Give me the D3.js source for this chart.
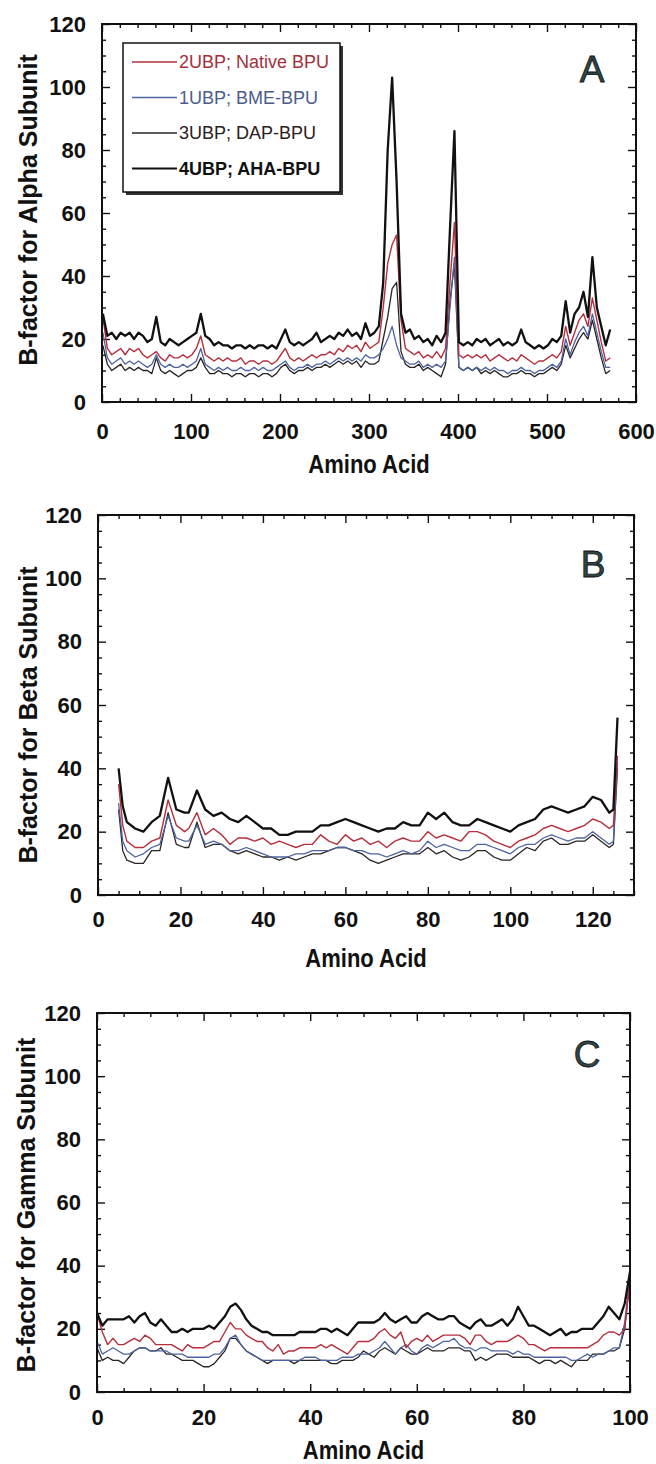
<!DOCTYPE html>
<html>
<head>
<meta charset="utf-8">
<script src="https://cdn.jsdelivr.net/npm/d3@7"></script>
<style>
  body { margin: 0; background: #fff; }
  svg { display: block; }
  text { font-family: "Liberation Sans", Arial, Helvetica, sans-serif; }
</style>
</head>
<body>
<svg id="chart" width="656" height="1464"></svg>
<script>
// series names, same order in every panel
const seriesNames = ['2UBP; Native BPU', '1UBP; BME-BPU', '3UBP; DAP-BPU', '4UBP; AHA-BPU'];

// ---- panel A : alpha subunit (sampled every 5 residues) ----
const residA = d3.range(1, 572, 5);
const nativeA = [
  27,17,15,16,17,15,17,16,17,15, 14,15,16,14,13,15,14,14,15,14,
  15,17,21,15,14,13,14,13,14,13, 13,14,12,13,13,12,13,13,12,13,
  15,17,14,13,14,13,14,15,14,15, 15,16,15,17,16,18,17,18,16,19,
  17,18,19,30,44,50,53,26,17,16, 15,16,14,15,14,16,14,17,38,57,
  15,14,15,14,15,14,15,13,14,15, 14,13,14,13,15,14,13,12,13,13,
  14,15,14,16,24,18,22,26,28,24, 33,26,19,13,14];
const bmeA = [
  22,14,12,13,14,12,13,12,13,12, 11,12,15,12,11,12,11,11,12,11,
  12,13,17,12,11,10,11,10,11,10, 10,11,10,10,11,10,11,10,10,11,
  12,13,11,10,11,11,12,11,12,12, 13,12,13,14,13,14,13,14,13,15,
  14,14,15,17,20,24,18,14,13,12, 12,13,11,12,11,12,11,13,30,46,
  11,10,11,10,11,10,11,10,11,10, 10,9,10,10,11,10,10,9,10,10,
  11,12,11,13,20,15,19,22,24,21, 28,22,16,11,11];
const dapA = [
  18,12,10,11,12,10,11,10,11,10, 10,9,14,10,9,10,9,8,9,10,
  10,11,14,11,9,9,10,9,9,8, 9,9,8,9,9,8,9,9,8,9,
  11,12,10,9,10,10,11,10,11,11, 12,11,12,13,12,13,12,13,11,13,
  12,12,13,20,27,36,38,16,12,11, 11,12,10,11,10,9,8,12,32,44,
  11,10,11,10,11,9,10,9,10,9, 8,8,9,9,10,9,9,8,9,9,
  10,11,10,12,18,14,17,20,22,20, 26,20,14,9,10];
const ahaA = [
  28,21,22,20,22,21,22,20,22,21, 19,20,27,19,18,20,19,18,19,20,
  21,22,28,21,20,18,19,18,18,17, 18,18,17,18,17,18,18,17,18,17,
  20,23,19,18,19,18,19,20,22,19, 20,21,20,22,21,23,21,22,20,25,
  21,22,24,38,80,103,70,28,22,23, 20,21,19,20,18,21,19,22,55,86,
  19,18,19,18,20,19,20,18,19,20, 18,19,18,19,23,19,18,17,18,17,
  18,20,19,21,32,22,28,30,35,27, 46,30,24,18,23];

// ---- panel B : beta subunit ----
const residB = [
  5,6,7,9,11,13,15,17,19,21, 22,24,26,28,30,32,34,36,38,40,
  42,44,46,48,50,52,54,56,58,60, 62,64,66,68,70,72,74,76,78,80,
  82,84,86,88,90,92,94,96,98,100, 102,104,106,108,110,112,114,116,118,120,
  122,124,125,126];
const nativeB = [
  35,22,17,15,15,17,18,30,22,20, 21,26,19,21,19,16,18,18,17,18,
  16,17,16,15,16,16,19,17,16,19, 17,18,16,17,15,17,18,17,17,20,
  18,19,18,17,20,20,19,17,16,15, 17,18,19,21,22,21,20,21,22,24,
  23,21,22,44];
const bmeB = [
  29,17,14,12,13,15,16,25,18,17, 17,22,16,17,16,14,14,15,14,13,
  12,12,12,13,13,14,14,14,15,15, 14,14,13,13,12,13,14,13,14,17,
  15,16,15,14,14,16,16,15,14,13, 15,16,16,18,19,18,17,18,18,20,
  18,16,17,42];
const dapB = [
  27,14,11,10,10,14,14,26,16,15, 15,23,15,16,16,14,13,14,13,12,
  12,11,12,11,12,13,13,14,15,15, 14,13,11,10,11,12,13,13,13,15,
  13,14,12,11,12,14,14,12,11,11, 13,15,14,17,18,16,16,17,17,19,
  17,15,16,40];
const ahaB = [
  40,28,23,21,20,23,25,37,27,26, 26,33,27,25,26,24,23,25,23,21,
  21,19,19,20,20,20,22,22,23,24, 23,22,21,20,21,21,23,22,22,26,
  24,26,23,22,22,24,23,22,21,20, 22,23,24,27,28,27,26,27,28,31,
  30,26,27,56];

// ---- panel C : gamma subunit ----
const residC = d3.range(0, 101);
const nativeC = [
  25,19,15,17,15,15,16,17,16,18, 17,15,15,15,15,14,13,15,14,14,
  14,15,16,16,19,22,20,20,18,17, 16,16,14,13,15,12,13,13,14,14,
  14,14,15,14,15,14,13,12,14,16, 16,16,17,19,20,18,17,19,14,16,
  17,16,18,16,17,18,18,18,18,17, 15,18,18,16,15,16,16,16,17,18,
  17,15,15,14,13,14,14,14,14,14, 14,14,14,15,16,18,19,19,18,20, 36];
const bmeC = [
  16,12,13,14,13,12,12,13,14,14, 13,13,13,13,12,12,12,11,11,11,
  11,11,12,12,14,17,18,15,13,12, 11,10,10,10,10,10,10,10,10,11,
  11,11,10,10,10,10,11,11,11,12, 12,12,13,14,16,14,12,14,15,13,
  12,14,15,14,15,16,16,17,15,14, 14,13,14,14,13,13,13,13,12,13,
  12,12,11,11,11,11,11,11,11,10, 10,11,12,11,12,12,13,14,14,22, 37];
const dapC = [
  14,10,11,10,10,9,11,13,14,14, 13,13,14,12,12,11,10,10,10,9,
  8,8,9,11,13,17,17,15,13,12, 11,10,9,10,10,10,10,9,10,10,
  10,10,10,10,9,9,10,10,10,11, 13,12,11,13,14,13,12,14,13,12,
  12,13,14,13,13,13,14,14,14,13, 13,10,11,10,11,12,12,12,11,11,
  11,11,10,9,10,10,9,10,9,8, 10,10,10,12,12,12,13,13,14,20, 36];
const ahaC = [
  25,21,23,23,23,23,24,22,24,25, 22,21,23,21,19,19,20,19,20,20,
  20,21,20,22,24,27,28,26,23,21, 20,19,19,18,18,18,18,18,19,19,
  19,19,20,20,19,20,19,18,20,22, 22,22,22,23,25,23,22,23,24,22,
  22,24,25,24,23,23,24,24,22,21, 20,22,23,21,21,22,23,21,23,27,
  24,21,21,20,19,18,19,20,18,19, 19,20,20,20,22,24,27,25,23,28, 38];

const yTicks = [0, 20, 40, 60, 80, 100, 120];

// drawing styles per series (index matches seriesNames)
const lineColor = ['#b52f3d', '#4d64a0', '#2b2424', '#111111'];
const textColor = ['#a3303a', '#4a5c8e', '#2a2020', '#111111'];
const lineWidth = [1.4, 1.3, 1.3, 2.3];
const drawOrder = [2, 1, 0, 3];

const svg = d3.select('#chart');
const font = '"Liberation Sans", Arial, Helvetica, sans-serif';

const panels = [
  { left: 102, right: 636, top: 24, bottom: 402, xMax: 600, major: 100, minor: 20,
    pad: 21, titleY: 473, yTitleX: 28, yTitleY: 210, letter: 'A', letterX: 592, letterY: 82,
    yTitle: 'B-factor for Alpha Subunit', resid: residA, series: [nativeA, bmeA, dapA, ahaA] },
  { left: 98, right: 634, top: 515, bottom: 895, xMax: 130, major: 20, minor: 5,
    pad: 16, titleY: 967, yTitleX: 28, yTitleY: 715, letter: 'B', letterX: 593, letterY: 577,
    yTitle: 'B-factor for Beta Subunit', resid: residB, series: [nativeB, bmeB, dapB, ahaB] },
  { left: 97, right: 630, top: 1013, bottom: 1392, xMax: 100, major: 20, minor: 5,
    pad: 17, titleY: 1459, yTitleX: 26, yTitleY: 1205, letter: 'C', letterX: 587, letterY: 1067,
    yTitle: 'B-factor for Gamma Subunit', resid: residC, series: [nativeC, bmeC, dapC, ahaC] }
];

panels.forEach(drawPanel);

function drawPanel(p) {
  const x = d3.scaleLinear().domain([0, p.xMax]).range([p.left, p.right]);
  const y = d3.scaleLinear().domain([0, 120]).range([p.bottom, p.top]);
  const g = svg.append('g');

  const majorX = d3.range(0, p.xMax + 0.1, p.major);
  const minorX = d3.range(0, p.xMax + 0.1, p.minor).filter(v => v % p.major !== 0);
  const minorY = d3.range(0, 121, 5).filter(v => v % 20 !== 0);

  // inward ticks on all four sides
  const addAxis = (axis, tx, ty, labels) => {
    const a = g.append('g').attr('transform', `translate(${tx},${ty})`).call(axis);
    a.select('.domain').remove();
    a.selectAll('line').attr('stroke', '#111').attr('stroke-width', 1.4);
    a.selectAll('text')
      .style('font-family', font)
      .style('font-size', '22px')
      .style('font-weight', 'bold')
      .attr('fill', '#111');
    if (!labels) a.selectAll('text').remove();
    return a;
  };

  addAxis(d3.axisBottom(x).tickValues(majorX).tickSize(-8).tickPadding(p.pad).tickFormat(d3.format('d')), 0, p.bottom, true);
  addAxis(d3.axisBottom(x).tickValues(minorX).tickSize(-4), 0, p.bottom, false);
  addAxis(d3.axisTop(x).tickValues(majorX).tickSize(-8), 0, p.top, false);
  addAxis(d3.axisTop(x).tickValues(minorX).tickSize(-4), 0, p.top, false);
  addAxis(d3.axisLeft(y).tickValues(yTicks).tickSize(-8).tickPadding(16), p.left, 0, true);
  addAxis(d3.axisLeft(y).tickValues(minorY).tickSize(-4), p.left, 0, false);
  addAxis(d3.axisRight(y).tickValues(yTicks).tickSize(-8), p.right, 0, false);
  addAxis(d3.axisRight(y).tickValues(minorY).tickSize(-4), p.right, 0, false);

  // data lines
  drawOrder.forEach(i => {
    const vals = p.series[i];
    const pts = p.resid.map((r, k) => [r, vals[k]]);
    g.append('path')
      .datum(pts)
      .attr('fill', 'none')
      .attr('stroke', lineColor[i])
      .attr('stroke-width', lineWidth[i])
      .attr('stroke-linejoin', 'round')
      .attr('d', d3.line().x(d => x(d[0])).y(d => y(d[1])));
  });

  // frame
  g.append('rect')
    .attr('x', p.left).attr('y', p.top)
    .attr('width', p.right - p.left).attr('height', p.bottom - p.top)
    .attr('fill', 'none').attr('stroke', '#111').attr('stroke-width', 2);

  // axis titles
  g.append('text')
    .attr('transform', `translate(${(p.left + p.right) / 2},${p.titleY}) scale(0.88,1)`)
    .attr('text-anchor', 'middle')
    .style('font-size', '25px').style('font-weight', 'bold').attr('fill', '#111')
    .text('Amino Acid');

  g.append('text')
    .attr('transform', `translate(${p.yTitleX},${p.yTitleY}) rotate(-90)`)
    .attr('text-anchor', 'middle')
    .attr('dy', '0.36em')
    .style('font-size', '25px').style('font-weight', 'bold').attr('fill', '#111')
    .text(p.yTitle);

  g.append('text')
    .attr('x', p.letterX).attr('y', p.letterY)
    .attr('text-anchor', 'middle')
    .style('font-size', '37px')
    .attr('fill', '#2d4646').attr('stroke', '#111').attr('stroke-width', 0.8)
    .text(p.letter);
}

// legend (panel A only)
const leg = svg.append('g');
leg.append('rect').attr('x', 126).attr('y', 46).attr('width', 217).attr('height', 149).attr('fill', '#333');
leg.append('rect').attr('x', 123).attr('y', 43).attr('width', 217).attr('height', 149)
  .attr('fill', '#fff').attr('stroke', '#111').attr('stroke-width', 1.5);

seriesNames.forEach((name, i) => {
  const ly = 62 + i * 35.5;
  leg.append('line')
    .attr('x1', 132).attr('x2', 177).attr('y1', ly).attr('y2', ly)
    .attr('stroke', lineColor[i]).attr('stroke-width', i === 3 ? 2 : 1.3);
  leg.append('text')
    .attr('x', 179).attr('y', ly).attr('dy', '0.36em')
    .style('font-size', '18px')
    .style('font-weight', i === 3 ? 'bold' : 'normal')
    .attr('fill', textColor[i])
    .text(name);
});
</script>
</body>
</html>
